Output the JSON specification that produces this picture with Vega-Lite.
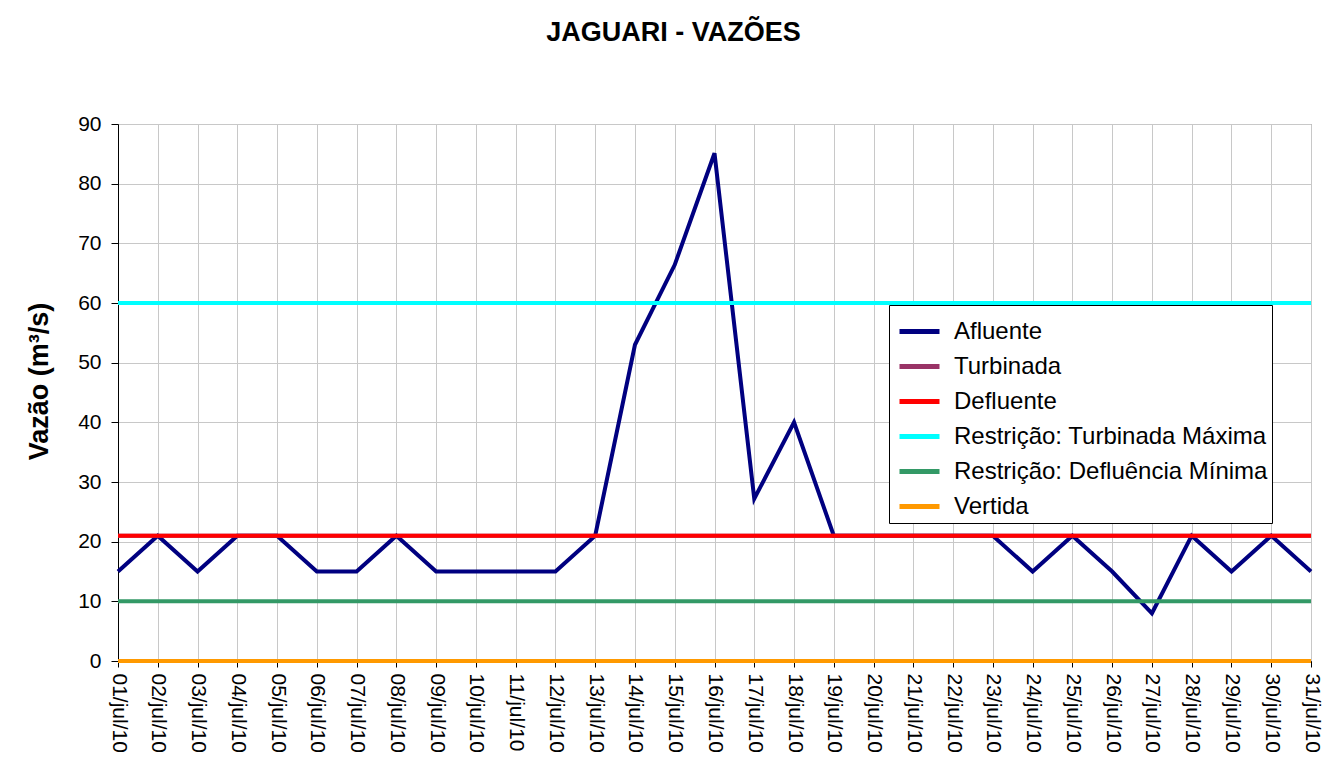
{
  "$schema": "https://vega.github.io/schema/vega-lite/v6.json",
  "width": 1193,
  "height": 537,
  "autosize": {"type": "none"},
  "padding": {"left": 118, "top": 124, "right": 28, "bottom": 113},
  "background": "white",
  "config": {
    "font": "Liberation Sans",
    "view": {"stroke": "#808080", "strokeWidth": 1},
    "axis": {"labelFont": "Liberation Sans", "titleFont": "Liberation Sans", "labelColor": "black", "titleColor": "black"}
  },
  "title": {
    "text": "JAGUARI - VAZÕES",
    "font": "Liberation Sans",
    "fontSize": 27,
    "fontWeight": "bold",
    "color": "black",
    "anchor": "middle",
    "dx": -41,
    "offset": 66
  },
  "data": {
    "values": [
      {"dia": "01/jul/10", "Afluente": 15, "Turbinada": 21, "Defluente": 21, "Restrição: Turbinada Máxima": 60, "Restrição: Defluência Mínima": 10, "Vertida": 0},
      {"dia": "02/jul/10", "Afluente": 21, "Turbinada": 21, "Defluente": 21, "Restrição: Turbinada Máxima": 60, "Restrição: Defluência Mínima": 10, "Vertida": 0},
      {"dia": "03/jul/10", "Afluente": 15, "Turbinada": 21, "Defluente": 21, "Restrição: Turbinada Máxima": 60, "Restrição: Defluência Mínima": 10, "Vertida": 0},
      {"dia": "04/jul/10", "Afluente": 21, "Turbinada": 21, "Defluente": 21, "Restrição: Turbinada Máxima": 60, "Restrição: Defluência Mínima": 10, "Vertida": 0},
      {"dia": "05/jul/10", "Afluente": 21, "Turbinada": 21, "Defluente": 21, "Restrição: Turbinada Máxima": 60, "Restrição: Defluência Mínima": 10, "Vertida": 0},
      {"dia": "06/jul/10", "Afluente": 15, "Turbinada": 21, "Defluente": 21, "Restrição: Turbinada Máxima": 60, "Restrição: Defluência Mínima": 10, "Vertida": 0},
      {"dia": "07/jul/10", "Afluente": 15, "Turbinada": 21, "Defluente": 21, "Restrição: Turbinada Máxima": 60, "Restrição: Defluência Mínima": 10, "Vertida": 0},
      {"dia": "08/jul/10", "Afluente": 21, "Turbinada": 21, "Defluente": 21, "Restrição: Turbinada Máxima": 60, "Restrição: Defluência Mínima": 10, "Vertida": 0},
      {"dia": "09/jul/10", "Afluente": 15, "Turbinada": 21, "Defluente": 21, "Restrição: Turbinada Máxima": 60, "Restrição: Defluência Mínima": 10, "Vertida": 0},
      {"dia": "10/jul/10", "Afluente": 15, "Turbinada": 21, "Defluente": 21, "Restrição: Turbinada Máxima": 60, "Restrição: Defluência Mínima": 10, "Vertida": 0},
      {"dia": "11/jul/10", "Afluente": 15, "Turbinada": 21, "Defluente": 21, "Restrição: Turbinada Máxima": 60, "Restrição: Defluência Mínima": 10, "Vertida": 0},
      {"dia": "12/jul/10", "Afluente": 15, "Turbinada": 21, "Defluente": 21, "Restrição: Turbinada Máxima": 60, "Restrição: Defluência Mínima": 10, "Vertida": 0},
      {"dia": "13/jul/10", "Afluente": 21, "Turbinada": 21, "Defluente": 21, "Restrição: Turbinada Máxima": 60, "Restrição: Defluência Mínima": 10, "Vertida": 0},
      {"dia": "14/jul/10", "Afluente": 53, "Turbinada": 21, "Defluente": 21, "Restrição: Turbinada Máxima": 60, "Restrição: Defluência Mínima": 10, "Vertida": 0},
      {"dia": "15/jul/10", "Afluente": 66.4, "Turbinada": 21, "Defluente": 21, "Restrição: Turbinada Máxima": 60, "Restrição: Defluência Mínima": 10, "Vertida": 0},
      {"dia": "16/jul/10", "Afluente": 85.1, "Turbinada": 21, "Defluente": 21, "Restrição: Turbinada Máxima": 60, "Restrição: Defluência Mínima": 10, "Vertida": 0},
      {"dia": "17/jul/10", "Afluente": 27.2, "Turbinada": 21, "Defluente": 21, "Restrição: Turbinada Máxima": 60, "Restrição: Defluência Mínima": 10, "Vertida": 0},
      {"dia": "18/jul/10", "Afluente": 40, "Turbinada": 21, "Defluente": 21, "Restrição: Turbinada Máxima": 60, "Restrição: Defluência Mínima": 10, "Vertida": 0},
      {"dia": "19/jul/10", "Afluente": 21, "Turbinada": 21, "Defluente": 21, "Restrição: Turbinada Máxima": 60, "Restrição: Defluência Mínima": 10, "Vertida": 0},
      {"dia": "20/jul/10", "Afluente": 21, "Turbinada": 21, "Defluente": 21, "Restrição: Turbinada Máxima": 60, "Restrição: Defluência Mínima": 10, "Vertida": 0},
      {"dia": "21/jul/10", "Afluente": 21, "Turbinada": 21, "Defluente": 21, "Restrição: Turbinada Máxima": 60, "Restrição: Defluência Mínima": 10, "Vertida": 0},
      {"dia": "22/jul/10", "Afluente": 21, "Turbinada": 21, "Defluente": 21, "Restrição: Turbinada Máxima": 60, "Restrição: Defluência Mínima": 10, "Vertida": 0},
      {"dia": "23/jul/10", "Afluente": 21, "Turbinada": 21, "Defluente": 21, "Restrição: Turbinada Máxima": 60, "Restrição: Defluência Mínima": 10, "Vertida": 0},
      {"dia": "24/jul/10", "Afluente": 15, "Turbinada": 21, "Defluente": 21, "Restrição: Turbinada Máxima": 60, "Restrição: Defluência Mínima": 10, "Vertida": 0},
      {"dia": "25/jul/10", "Afluente": 21, "Turbinada": 21, "Defluente": 21, "Restrição: Turbinada Máxima": 60, "Restrição: Defluência Mínima": 10, "Vertida": 0},
      {"dia": "26/jul/10", "Afluente": 15, "Turbinada": 21, "Defluente": 21, "Restrição: Turbinada Máxima": 60, "Restrição: Defluência Mínima": 10, "Vertida": 0},
      {"dia": "27/jul/10", "Afluente": 8, "Turbinada": 21, "Defluente": 21, "Restrição: Turbinada Máxima": 60, "Restrição: Defluência Mínima": 10, "Vertida": 0},
      {"dia": "28/jul/10", "Afluente": 21, "Turbinada": 21, "Defluente": 21, "Restrição: Turbinada Máxima": 60, "Restrição: Defluência Mínima": 10, "Vertida": 0},
      {"dia": "29/jul/10", "Afluente": 15, "Turbinada": 21, "Defluente": 21, "Restrição: Turbinada Máxima": 60, "Restrição: Defluência Mínima": 10, "Vertida": 0},
      {"dia": "30/jul/10", "Afluente": 21, "Turbinada": 21, "Defluente": 21, "Restrição: Turbinada Máxima": 60, "Restrição: Defluência Mínima": 10, "Vertida": 0},
      {"dia": "31/jul/10", "Afluente": 15, "Turbinada": 21, "Defluente": 21, "Restrição: Turbinada Máxima": 60, "Restrição: Defluência Mínima": 10, "Vertida": 0}
    ]
  },
  "transform": [
    {"fold": ["Afluente", "Turbinada", "Defluente", "Restrição: Turbinada Máxima", "Restrição: Defluência Mínima", "Vertida"], "as": ["serie", "vazao"]}
  ],
  "mark": {"type": "line", "strokeWidth": 4, "strokeCap": "butt", "strokeJoin": "miter"},
  "encoding": {
    "x": {
      "field": "dia",
      "type": "ordinal",
      "sort": null,
      "scale": {"type": "point", "padding": 0},
      "axis": {
        "title": null,
        "labelAngle": 90,
        "labelFontSize": 21,
        "labelPadding": 6,
        "tickSize": 6,
        "tickColor": "black",
        "domainColor": "black",
        "grid": true,
        "gridColor": "#c8c8c8",
        "labelOverlap": false
      }
    },
    "y": {
      "field": "vazao",
      "type": "quantitative",
      "scale": {"domain": [0, 90], "nice": false},
      "axis": {
        "title": "Vazão (m³/s)",
        "titleFontSize": 27,
        "titleFontWeight": "bold",
        "titlePadding": 24,
        "titleY": 257,
        "values": [0, 10, 20, 30, 40, 50, 60, 70, 80, 90],
        "labelFontSize": 21,
        "labelPadding": 10,
        "tickSize": 7,
        "tickColor": "black",
        "domainColor": "black",
        "grid": true,
        "gridColor": "#c8c8c8"
      }
    },
    "color": {
      "field": "serie",
      "type": "nominal",
      "scale": {
        "domain": ["Afluente", "Turbinada", "Defluente", "Restrição: Turbinada Máxima", "Restrição: Defluência Mínima", "Vertida"],
        "range": ["#000080", "#993366", "#FF0000", "#00FFFF", "#339966", "#FF9900"]
      },
      "legend": {
        "title": null,
        "orient": "none",
        "legendX": 771,
        "legendY": 181,
        "padding": 4,
        "strokeColor": "black",
        "fillColor": "white",
        "labelFontSize": 24,
        "labelColor": "black",
        "labelLimit": 500,
        "symbolType": "stroke",
        "symbolStrokeWidth": 5,
        "symbolSize": 1600,
        "symbolOffset": 4,
        "rowPadding": -8,
        "labelOffset": 12
      }
    }
  }
}
